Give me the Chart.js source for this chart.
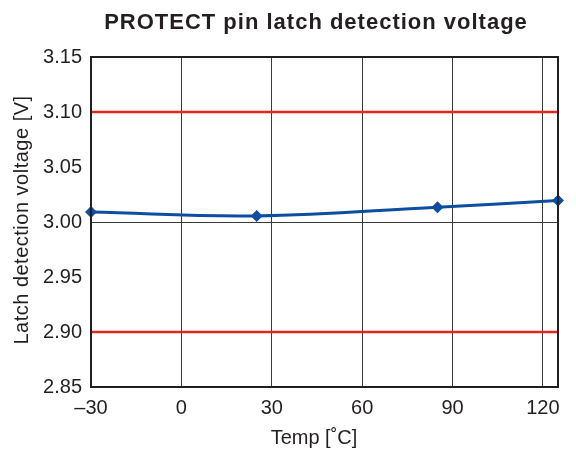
<!DOCTYPE html>
<html>
<head>
<meta charset="utf-8">
<script src="https://cdn.jsdelivr.net/npm/chart.js@4"></script>
<style>
    html, body { margin: 0; padding: 0; background: #fff; }
    #wrap { width: 576px; height: 454px; }
</style>
</head>
<body>
<div id="wrap"><canvas id="latch-chart"></canvas></div>
<script>
// data
var temps = [-30, 25, 85, 125];
var voltages = [3.009, 3.0055, 3.0135, 3.0195];
var limitRange = [-30, 125];
var upperLimit = [3.10, 3.10];
var lowerLimit = [2.90, 2.90];
var xTicks = [-30, 0, 30, 60, 90, 120];
var yTicks = [2.85, 2.90, 2.95, 3.00, 3.05, 3.10, 3.15];

var fontName = '"Liberation Sans", Arial, Helvetica, sans-serif';
var textColor = '#231f20';

function toPoints(xs, ys) {
    return xs.map(function (x, i) { return { x: x, y: ys[i] }; });
}

// frame, chart title and axis titles drawn by hand
var framePlugin = {
    id: 'frame',
    afterDraw: function (chart) {
        var ctx = chart.ctx;
        var a = chart.chartArea;
        ctx.save();
        ctx.strokeStyle = textColor;
        ctx.lineWidth = 2;
        ctx.strokeRect(a.left, a.top, a.right - a.left, a.bottom - a.top);

        ctx.fillStyle = textColor;
        ctx.letterSpacing = '1px';
        ctx.font = 'bold 22px ' + fontName;
        ctx.textAlign = 'center';
        ctx.textBaseline = 'alphabetic';
        ctx.fillText('PROTECT pin latch detection voltage', 316, 29);

        ctx.letterSpacing = '0px';
        ctx.font = '20px ' + fontName;
        ctx.textBaseline = 'middle';
        ctx.fillText('Temp [\u02daC]', 314, 438);

        ctx.letterSpacing = '0.5px';
        ctx.translate(22, 220);
        ctx.rotate(-Math.PI / 2);
        ctx.fillText('Latch detection voltage [V]', 0, 0);
        ctx.restore();
    }
};

var canvas = document.getElementById('latch-chart');
var latchChart = new Chart(canvas, {
    type: 'line',
    data: {
        datasets: [
            {
                data: toPoints(limitRange, upperLimit),
                borderColor: '#e3241f',
                borderWidth: 2.5,
                pointRadius: 0
            },
            {
                data: toPoints(limitRange, lowerLimit),
                borderColor: '#e3241f',
                borderWidth: 2.5,
                pointRadius: 0
            },
            {
                data: toPoints(temps, voltages),
                borderColor: '#0d4ea0',
                backgroundColor: '#0d4ea0',
                borderWidth: 3,
                tension: 0.4,
                pointStyle: 'rectRot',
                pointRadius: 6,
                pointBorderWidth: 0,
                clip: false
            }
        ]
    },
    options: {
        responsive: true,
        maintainAspectRatio: false,
        animation: false,
        events: [],
        layout: {
            padding: { top: 57, right: 18, bottom: 0, left: 0 }
        },
        scales: {
            x: {
                type: 'linear',
                min: -30,
                max: 125,
                afterBuildTicks: function (scale) {
                    scale.ticks = xTicks.map(function (v) { return { value: v }; });
                },
                afterFit: function (scale) {
                    scale.height = 67;
                },
                grid: {
                    color: '#3a3a3a',
                    lineWidth: 1,
                    drawTicks: false
                },
                border: { display: false },
                ticks: {
                    padding: 9,
                    color: textColor,
                    font: { family: fontName, size: 20 },
                    callback: function (v) {
                        return v < 0 ? '\u2013' + Math.abs(v) : String(v);
                    }
                }
            },
            y: {
                min: 2.85,
                max: 3.15,
                afterBuildTicks: function (scale) {
                    scale.ticks = yTicks.map(function (v) { return { value: v }; });
                },
                afterFit: function (scale) {
                    scale.width = 91;
                },
                grid: {
                    color: function (c) {
                        return c.tick && Math.abs(c.tick.value - 3.0) < 1e-6 ? '#3a3a3a' : 'rgba(0,0,0,0)';
                    },
                    lineWidth: 1,
                    drawTicks: false
                },
                border: { display: false },
                ticks: {
                    padding: 9,
                    color: textColor,
                    font: { family: fontName, size: 20 },
                    callback: function (v) {
                        return Number(v).toFixed(2);
                    }
                }
            }
        },
        plugins: {
            legend: { display: false },
            tooltip: { enabled: false }
        }
    },
    plugins: [framePlugin]
});
</script>
</body>
</html>
